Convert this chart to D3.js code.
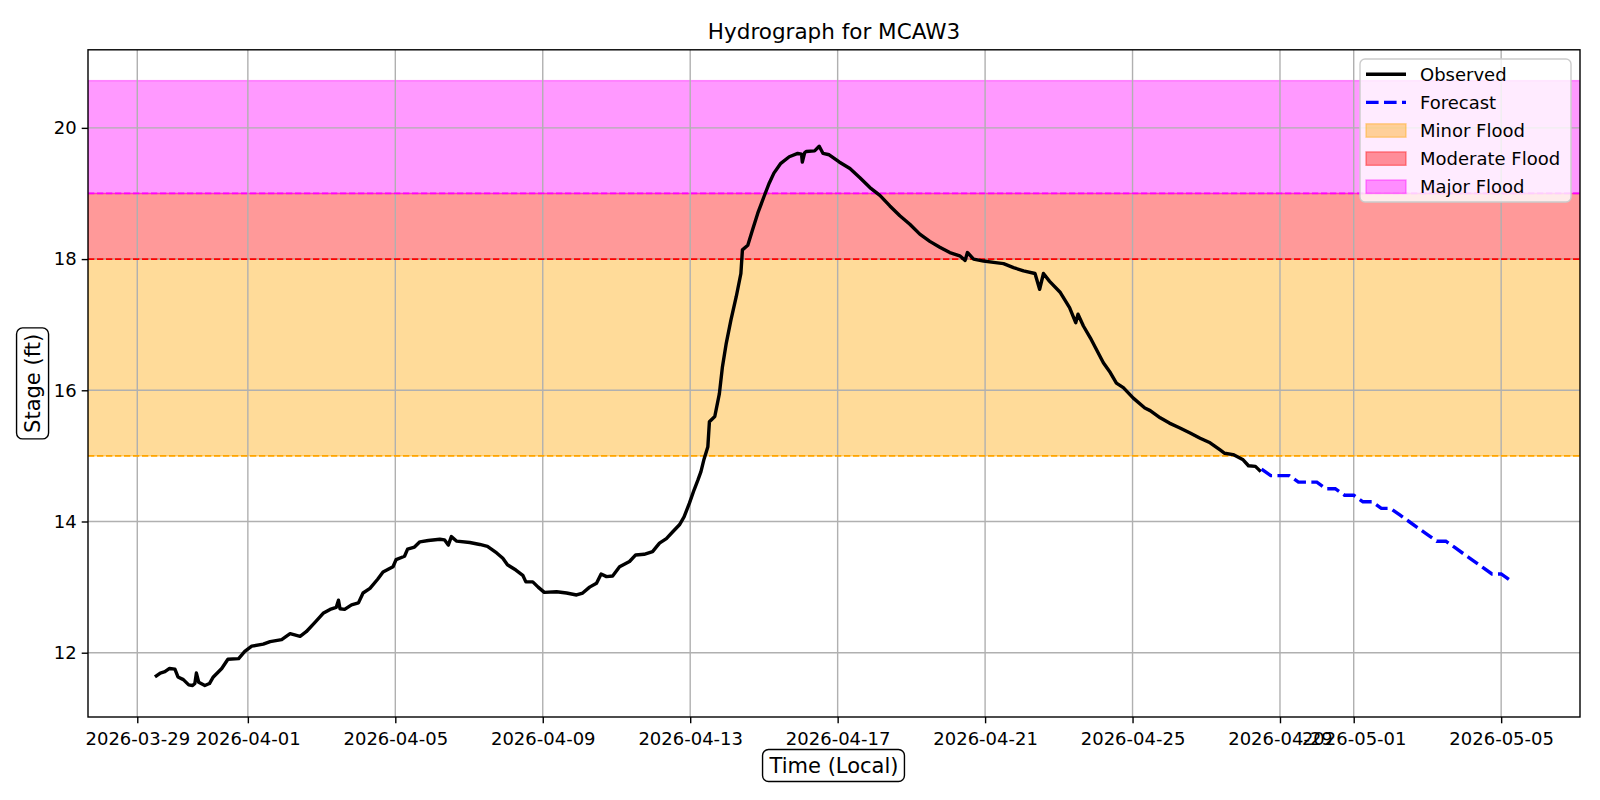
<!DOCTYPE html>
<html>
<head>
<meta charset="utf-8">
<script src="https://cdn.jsdelivr.net/npm/d3@7"></script>
<style>
  body { margin: 0; background: #fff; }
  svg { font-family: "DejaVu Sans", sans-serif; }
</style>
</head>
<body>
<svg id="chart" width="1600" height="800"></svg>
<script>
// observed stage (ft), local time
const obsTime = [
  "2026-03-29 11:30","2026-03-29 15:00","2026-03-29 18:00","2026-03-29 21:00","2026-03-30 00:30",
  "2026-03-30 02:30","2026-03-30 06:00","2026-03-30 09:30","2026-03-30 12:00","2026-03-30 13:30",
  "2026-03-30 14:30","2026-03-30 16:00","2026-03-30 20:00","2026-03-30 23:00","2026-03-31 01:30",
  "2026-03-31 07:00","2026-03-31 11:00","2026-03-31 18:00","2026-03-31 22:00","2026-04-01 02:30",
  "2026-04-01 10:00","2026-04-01 14:30","2026-04-01 22:00","2026-04-02 03:30","2026-04-02 10:00",
  "2026-04-02 14:00","2026-04-02 20:00","2026-04-03 01:00","2026-04-03 05:30","2026-04-03 09:30",
  "2026-04-03 11:00","2026-04-03 12:00","2026-04-03 15:00","2026-04-03 19:30","2026-04-04 00:00",
  "2026-04-04 03:00","2026-04-04 07:30","2026-04-04 12:30","2026-04-04 16:00","2026-04-04 22:30",
  "2026-04-05 00:30","2026-04-05 06:00","2026-04-05 08:00","2026-04-05 12:30","2026-04-05 16:00",
  "2026-04-05 21:30","2026-04-06 05:00","2026-04-06 08:00","2026-04-06 10:30","2026-04-06 12:30",
  "2026-04-06 16:00","2026-04-07 00:30","2026-04-07 07:00","2026-04-07 12:00","2026-04-07 18:00",
  "2026-04-07 22:00","2026-04-08 01:00","2026-04-08 06:30","2026-04-08 11:00","2026-04-08 13:00",
  "2026-04-08 17:30","2026-04-08 21:00","2026-04-09 01:00","2026-04-09 09:00","2026-04-09 15:30",
  "2026-04-09 22:00","2026-04-10 02:00","2026-04-10 06:30","2026-04-10 11:00","2026-04-10 14:00",
  "2026-04-10 17:30","2026-04-10 21:30","2026-04-11 02:00","2026-04-11 08:30","2026-04-11 12:30",
  "2026-04-11 18:00","2026-04-11 23:30","2026-04-12 04:00","2026-04-12 08:30","2026-04-12 12:30",
  "2026-04-12 17:00","2026-04-12 20:00","2026-04-12 23:30","2026-04-13 02:30","2026-04-13 05:00",
  "2026-04-13 07:00","2026-04-13 09:00","2026-04-13 11:30","2026-04-13 12:30","2026-04-13 16:00",
  "2026-04-13 19:00","2026-04-13 21:00","2026-04-13 23:30","2026-04-14 02:30","2026-04-14 06:00",
  "2026-04-14 09:00","2026-04-14 10:00","2026-04-14 13:30","2026-04-14 16:30","2026-04-14 20:00",
  "2026-04-15 00:00","2026-04-15 03:30","2026-04-15 06:30","2026-04-15 11:00","2026-04-15 16:30",
  "2026-04-15 22:00","2026-04-16 00:30","2026-04-16 01:00","2026-04-16 02:30","2026-04-16 03:30",
  "2026-04-16 09:00","2026-04-16 12:00","2026-04-16 14:30","2026-04-16 18:30","2026-04-17 01:00",
  "2026-04-17 08:00","2026-04-17 14:30","2026-04-17 21:00","2026-04-18 03:30","2026-04-18 10:00",
  "2026-04-18 16:30","2026-04-18 23:00","2026-04-19 05:30","2026-04-19 12:00","2026-04-19 18:30",
  "2026-04-20 01:00","2026-04-20 07:30","2026-04-20 11:00","2026-04-20 12:30","2026-04-20 16:30",
  "2026-04-20 23:00","2026-04-21 05:30","2026-04-21 12:00","2026-04-21 18:30","2026-04-22 01:00",
  "2026-04-22 08:30","2026-04-22 11:30","2026-04-22 14:00","2026-04-22 18:00","2026-04-23 01:00",
  "2026-04-23 07:00","2026-04-23 11:00","2026-04-23 12:30","2026-04-23 16:00","2026-04-23 20:30",
  "2026-04-24 01:00","2026-04-24 05:00","2026-04-24 09:30","2026-04-24 13:30","2026-04-24 18:00",
  "2026-04-25 00:30","2026-04-25 08:00","2026-04-25 11:30","2026-04-25 18:00","2026-04-26 00:00",
  "2026-04-26 06:30","2026-04-26 13:30","2026-04-26 20:00","2026-04-27 02:30","2026-04-27 09:00",
  "2026-04-27 12:00","2026-04-27 17:30","2026-04-28 00:00","2026-04-28 03:30","2026-04-28 08:00",
  "2026-04-28 11:30"
];
const obsStage = [
  11.63, 11.69, 11.71, 11.76, 11.75,
  11.63, 11.59, 11.51, 11.50, 11.53,
  11.69, 11.55, 11.50, 11.53, 11.63,
  11.76, 11.90, 11.91, 12.02, 12.10,
  12.13, 12.17, 12.20, 12.29, 12.25,
  12.32, 12.47, 12.60, 12.66, 12.69,
  12.80, 12.67, 12.66, 12.73, 12.76,
  12.91, 12.98, 13.12, 13.23, 13.31,
  13.42, 13.47, 13.58, 13.61, 13.69,
  13.71, 13.73, 13.72, 13.64, 13.77,
  13.70, 13.68, 13.65, 13.62, 13.52,
  13.44, 13.34, 13.26, 13.18, 13.08,
  13.08, 13.00, 12.92, 12.93, 12.91,
  12.88, 12.91, 13.00, 13.06, 13.20,
  13.16, 13.17, 13.31, 13.39, 13.49,
  13.50, 13.54, 13.67, 13.74, 13.84,
  13.95, 14.07, 14.28, 14.48, 14.63,
  14.76, 14.95, 15.14, 15.52, 15.60,
  15.95, 16.36, 16.72, 17.07, 17.43,
  17.78, 18.14, 18.21, 18.44, 18.70,
  18.95, 19.16, 19.31, 19.46, 19.56,
  19.61, 19.60, 19.48, 19.62, 19.64,
  19.65, 19.72, 19.61, 19.59, 19.48,
  19.38, 19.24, 19.09, 18.97, 18.81,
  18.66, 18.53, 18.38, 18.27, 18.18,
  18.10, 18.05, 17.98, 18.10, 18.00,
  17.97, 17.95, 17.93, 17.87, 17.82,
  17.78, 17.54, 17.78, 17.66, 17.49,
  17.26, 17.03, 17.16, 16.98, 16.80,
  16.60, 16.42, 16.27, 16.11, 16.04,
  15.88, 15.73, 15.69, 15.58, 15.50,
  15.43, 15.35, 15.27, 15.20, 15.09,
  15.04, 15.02, 14.94, 14.85, 14.84,
  14.76
];

// forecast, 6-hourly
const fcTime = [
  "2026-04-28 12:00","2026-04-28 18:00","2026-04-29 00:00","2026-04-29 06:00","2026-04-29 12:00",
  "2026-04-29 18:00","2026-04-30 00:00","2026-04-30 06:00","2026-04-30 12:00","2026-04-30 18:00",
  "2026-05-01 00:00","2026-05-01 06:00","2026-05-01 12:00","2026-05-01 18:00","2026-05-02 00:00",
  "2026-05-02 06:00","2026-05-02 12:00","2026-05-02 18:00","2026-05-03 00:00","2026-05-03 06:00",
  "2026-05-03 12:00","2026-05-03 18:00","2026-05-04 00:00","2026-05-04 06:00","2026-05-04 12:00",
  "2026-05-04 18:00","2026-05-05 00:00","2026-05-05 06:00"
];
const fcStage = [
  14.8, 14.7, 14.7, 14.7, 14.6,
  14.6, 14.6, 14.5, 14.5, 14.4,
  14.4, 14.3, 14.3, 14.2, 14.2,
  14.1, 14.0, 13.9, 13.8, 13.7,
  13.7, 13.6, 13.5, 13.4, 13.3,
  13.2, 13.2, 13.1
];

// flood categories
const floodNames = ["Minor Flood", "Moderate Flood", "Major Flood"];
const floodLow = [15, 18, 19];
const floodHigh = [18, 19, 20.72];
const floodColors = ["orange", "red", "magenta"];

const xTickLabels = ["2026-03-29", "2026-04-01", "2026-04-05", "2026-04-09", "2026-04-13", "2026-04-17",
                     "2026-04-21", "2026-04-25", "2026-04-29", "2026-05-01", "2026-05-05"];
const yTickValues = [12, 14, 16, 18, 20];
const xDomain = ["2026-03-27 15:55", "2026-05-07 03:20"];
const yDomain = [11.02, 21.19];

// plot box in px
const plotLeft = 88, plotRight = 1580, plotTop = 49.8, plotBottom = 717;
const parseTime = d3.timeParse("%Y-%m-%d %H:%M");
const parseDay = d3.timeParse("%Y-%m-%d");

const svg = d3.select("#chart");

const x = d3.scaleTime().domain(xDomain.map(parseTime)).range([plotLeft, plotRight]);
const y = d3.scaleLinear().domain(yDomain).range([plotBottom, plotTop]);

svg.append("defs").append("clipPath").attr("id", "plot-clip")
    .append("rect")
    .attr("x", plotLeft).attr("y", plotTop)
    .attr("width", plotRight - plotLeft).attr("height", plotBottom - plotTop);

const plot = svg.append("g").attr("clip-path", "url(#plot-clip)");

// flood bands
plot.append("g").attr("class", "bands")
    .selectAll("rect")
    .data(floodNames.map((n, i) => ({ name: n, lo: floodLow[i], hi: floodHigh[i], color: floodColors[i] })))
    .join("rect")
    .attr("x", plotLeft)
    .attr("width", plotRight - plotLeft)
    .attr("y", d => y(d.hi))
    .attr("height", d => y(d.lo) - y(d.hi))
    .attr("fill", d => d.color)
    .attr("fill-opacity", 0.4)
    .attr("stroke", d => d.color)
    .attr("stroke-opacity", 0.4)
    .attr("stroke-width", 1.4);

// grid
const xTickDates = xTickLabels.map(parseDay);
const grid = plot.append("g").attr("class", "grid")
    .attr("stroke", "#b0b0b0")
    .attr("stroke-width", 1.4);
grid.selectAll(".gx")
    .data(xTickDates)
    .join("line")
    .attr("x1", d => x(d)).attr("x2", d => x(d))
    .attr("y1", plotTop).attr("y2", plotBottom);
grid.selectAll(".gy")
    .data(yTickValues)
    .join("line")
    .attr("y1", d => y(d)).attr("y2", d => y(d))
    .attr("x1", plotLeft).attr("x2", plotRight);

// flood stage lines
plot.append("g").attr("class", "flood-lines")
    .selectAll("line")
    .data(floodLow.map((v, i) => ({ v, color: floodColors[i] })))
    .join("line")
    .attr("x1", plotLeft).attr("x2", plotRight)
    .attr("y1", d => y(d.v)).attr("y2", d => y(d.v))
    .attr("stroke", d => d.color)
    .attr("stroke-width", 1.7)
    .attr("stroke-dasharray", "6.3,2.7");

const observed = obsTime.map((t, i) => ({ t: parseTime(t), v: obsStage[i] }));
const forecast = fcTime.map((t, i) => ({ t: parseTime(t), v: fcStage[i] }));
const line = d3.line().x(d => x(d.t)).y(d => y(d.v));

plot.append("path")
    .datum(observed)
    .attr("d", line)
    .attr("fill", "none")
    .attr("stroke", "black")
    .attr("stroke-width", 3.4)
    .attr("stroke-linejoin", "round");

plot.append("path")
    .datum(forecast)
    .attr("d", line)
    .attr("fill", "none")
    .attr("stroke", "blue")
    .attr("stroke-width", 3.4)
    .attr("stroke-dasharray", "12.6,5.4");

// axes
const xAxis = d3.axisBottom(x).tickValues(xTickDates).tickFormat(d3.timeFormat("%Y-%m-%d"))
    .tickSize(6.3).tickPadding(5);
const yAxis = d3.axisLeft(y).tickValues(yTickValues).tickFormat(d3.format("d"))
    .tickSize(6.3).tickPadding(5);

const gx = svg.append("g").attr("transform", `translate(0,${plotBottom})`).call(xAxis);
const gy = svg.append("g").attr("transform", `translate(${plotLeft},0)`).call(yAxis);
[gx, gy].forEach(g => {
  g.select(".domain").remove();
  g.selectAll("line").attr("stroke", "black").attr("stroke-width", 1.4);
  g.selectAll("text").attr("fill", "black").style("font-size", "18px").style("font-family", "DejaVu Sans");
});
gx.selectAll("text").attr("dy", "0.95em");

svg.append("rect")
    .attr("x", plotLeft).attr("y", plotTop)
    .attr("width", plotRight - plotLeft).attr("height", plotBottom - plotTop)
    .attr("fill", "none")
    .attr("stroke", "black")
    .attr("stroke-width", 1.4);

// title
svg.append("text")
    .attr("x", (plotLeft + plotRight) / 2)
    .attr("y", 39)
    .attr("text-anchor", "middle")
    .style("font-size", "21.5px")
    .text("Hydrograph for MCAW3");

// boxed axis labels
function boxedLabel(text, cx, cy, rotate) {
  const g = svg.append("g").attr("transform", `translate(${cx},${cy}) rotate(${rotate})`);
  const t = g.append("text")
      .attr("text-anchor", "middle")
      .attr("dy", "0.36em")
      .style("font-size", "21px")
      .text(text);
  const bb = t.node().getBBox();
  g.insert("rect", "text")
      .attr("x", bb.x - 6).attr("y", bb.y - 4)
      .attr("width", bb.width + 12).attr("height", bb.height + 8)
      .attr("rx", 6)
      .attr("fill", "white")
      .attr("stroke", "black")
      .attr("stroke-width", 1.4);
}
boxedLabel("Time (Local)", (plotLeft + plotRight) / 2, 765, 0);
boxedLabel("Stage (ft)", 32, (plotTop + plotBottom) / 2, -90);

// legend
const legendItems = [
  { name: "Observed", kind: "line", color: "black", dash: null },
  { name: "Forecast", kind: "line", color: "blue", dash: "12.6,5.4" },
  ...floodNames.map((n, i) => ({ name: n, kind: "patch", color: floodColors[i] }))
];
const legend = svg.append("g").attr("class", "legend");
legend.append("rect")
    .attr("x", 1360).attr("y", 59)
    .attr("width", 211).attr("height", 143)
    .attr("rx", 5)
    .attr("fill", "white")
    .attr("fill-opacity", 0.8)
    .attr("stroke", "#cccccc")
    .attr("stroke-width", 1.4);
const entry = legend.selectAll(".entry")
    .data(legendItems)
    .join("g")
    .attr("transform", (d, i) => `translate(1366,${74.3 + i * 28.1})`);
entry.filter(d => d.kind === "line").append("line")
    .attr("x1", 0).attr("x2", 40)
    .attr("stroke", d => d.color)
    .attr("stroke-width", 3.4)
    .attr("stroke-dasharray", d => d.dash);
entry.filter(d => d.kind === "patch").append("rect")
    .attr("x", 0).attr("y", -6.7)
    .attr("width", 40).attr("height", 13.4)
    .attr("fill", d => d.color).attr("fill-opacity", 0.4)
    .attr("stroke", d => d.color).attr("stroke-opacity", 0.4)
    .attr("stroke-width", 1.4);
entry.append("text")
    .attr("x", 54)
    .attr("dy", "0.36em")
    .style("font-size", "18px")
    .text(d => d.name);
</script>
</body>
</html>
